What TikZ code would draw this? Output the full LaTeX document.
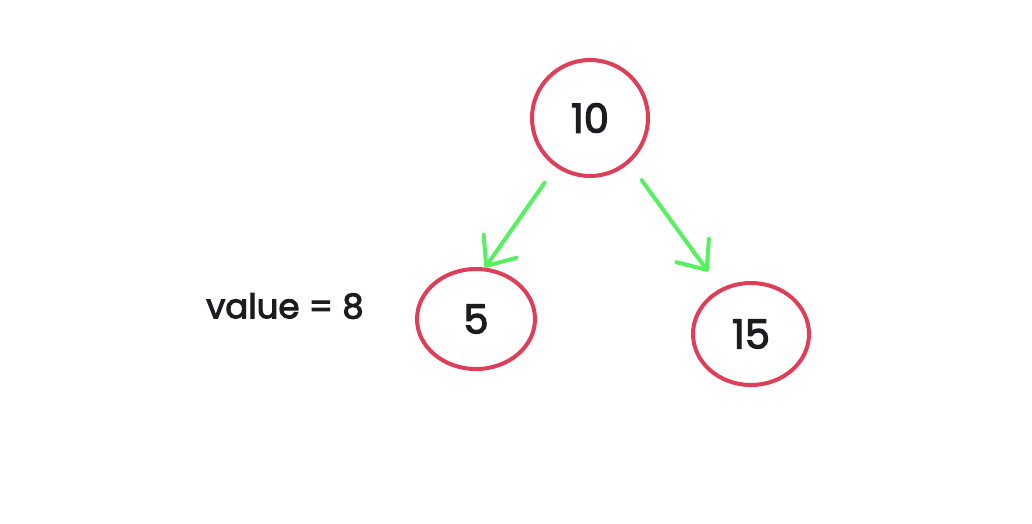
\documentclass[tikz,border=0pt]{standalone}
\usepackage{fontspec}
\setmainfont{Poppins}
% a weight between regular and bold
\newfontfamily\inkfont[FakeBold=3]{Poppins}
\usetikzlibrary{shapes.geometric,arrows.meta}
\definecolor{ringred}{RGB}{222,62,88}
\definecolor{edgegreen}{RGB}{86,240,96}
\definecolor{inkblack}{RGB}{28,28,30}
\tikzset{
  treenode/.style={ellipse, draw=ringred, line width=4pt, inner sep=0pt,
    text=inkblack, font=\inkfont\fontsize{40}{42}\selectfont},
  treeedge/.style={draw=edgegreen, line width=4pt, line cap=round,
    -{Straight Barb[length=24pt,width=40pt,line cap=round,line join=round]}},
  notetext/.style={text=inkblack, font=\inkfont\fontsize{34}{36}\selectfont}
}
\begin{document}
\begin{tikzpicture}[x=1pt,y=-1pt]
  \useasboundingbox[fill=white] (0,0) rectangle (1032,523);
  % binary search tree
  \node[treenode, minimum width=116pt, minimum height=116pt] (n10) at (590,118) {10};
  \node[treenode, minimum width=118pt, minimum height=100pt] (n5) at (476,319) {5};
  \node[treenode, minimum width=116pt, minimum height=102pt] (n15) at (751,334) {15};
  % child links
  \draw[treeedge, shorten <=19pt] (n10.235) -- (n5.80);
  \draw[treeedge, shorten <=21pt, shorten >=21pt] (n10.-49) -- (n15.124);
  % value being searched
  \node[notetext] (val) at (285,306) {value = 8};
\end{tikzpicture}
\end{document}
